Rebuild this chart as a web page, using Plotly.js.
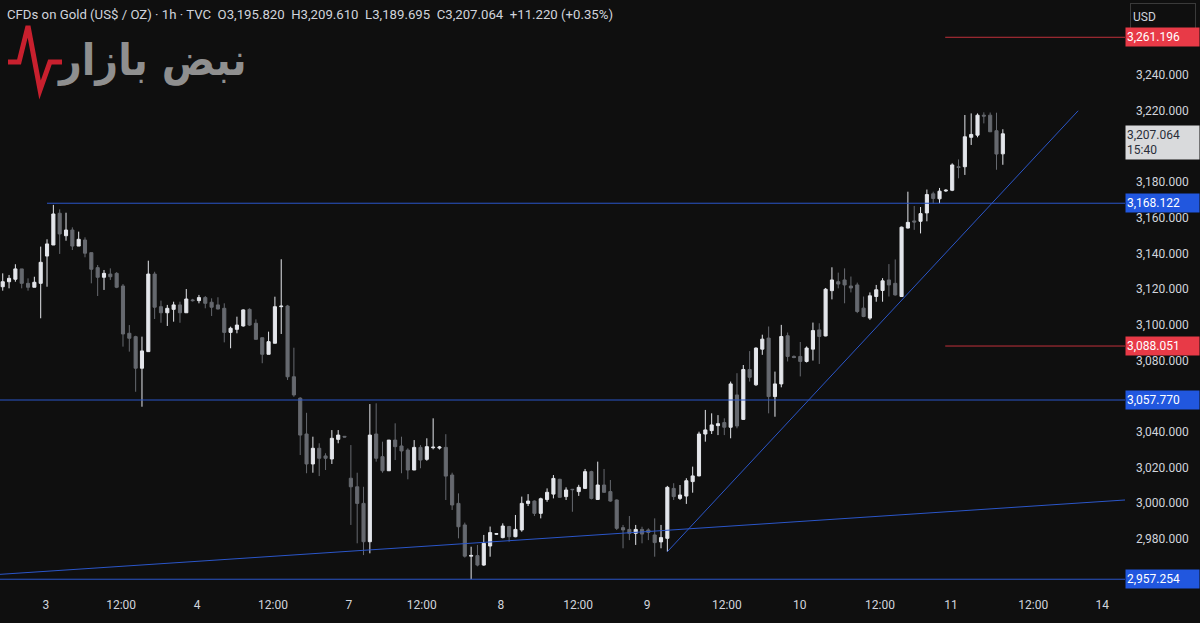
<!DOCTYPE html>
<html><head><meta charset="utf-8">
<script src="https://cdn.plot.ly/plotly-3.0.1.min.js"></script>
<style>html,body{margin:0;padding:0;background:#0f0f0f;}#chart{width:1200px;height:623px;}</style>
</head><body><div id="chart"></div>
<script>
// ---- candle data (1h, CFDs on Gold) ----
const opens = [3121.3,3124.1,3125.5,3131.3,3123.2,3121.0,3123.2,3138.5,3144.7,3162.5,
3149.9,3153.1,3144.1,3147.5,3140.4,3132.0,3126.6,3128.4,3128.8,3121.7,
3095.2,3093.3,3075.6,3084.9,3128.4,3110.1,3106.7,3108.6,3111.1,3106.7,
3113.9,3113.5,3115.2,3112.6,3111.1,3109.2,3095.7,3097.4,3099.3,3108.6,
3100.8,3092.7,3083.4,3089.6,3110.1,3110.5,3070.8,3058.8,3038.7,3021.9,
3030.7,3026.4,3024.7,3035.7,3037.4,3013.9,3009.1,2999.8,2978.3,3038.7,
3026.0,3018.1,3035.3,3032.0,3029.7,3018.5,3031.2,3024.5,3031.0,3030.8,
3031.2,3015.7,2999.8,2987.7,2970.2,2970.5,2965.2,2975.9,2982.5,2980.6,
2986.8,2981.1,2984.9,2999.8,3001.1,2994.2,3002.0,3005.0,3013.3,3003.6,
3007.7,3006.4,3008.2,3017.6,3002.0,3010.1,3006.4,3001.7,2986.2,2985.2,
2983.0,2985.2,2984.9,2982.1,2978.2,2980.2,3008.2,3002.6,3003.9,3012.0,
3015.2,3038.7,3040.6,3043.4,3045.1,3042.5,3060.6,3046.9,3074.9,3066.3,
3086.3,3092.5,3059.7,3066.8,3093.8,3082.2,3082.2,3079.4,3086.3,3097.1,
3093.7,3119.1,3124.1,3125.1,3121.7,3122.3,3109.3,3103.7,3115.8,3119.2,
3125.1,3123.2,3115.8,3154.2,3158.2,3158.0,3162.7,3173.4,3170.6,3175.0,
3175.4,3188.6,3188.6,3205.1,3206.3,3217.5,3217.5,3208.8,3195.82];
const highs = [3128.8,3127.9,3133.9,3131.3,3126.0,3126.9,3143.8,3147.9,3167.2,3164.7,
3162.8,3154.6,3152.2,3149.0,3140.4,3133.5,3130.7,3131.6,3129.5,3122.8,
3099.8,3093.8,3093.3,3135.9,3129.7,3113.5,3111.1,3112.9,3112.9,3120.0,
3114.5,3116.7,3116.1,3114.8,3115.4,3112.0,3098.9,3104.5,3108.6,3109.2,
3103.0,3092.7,3096.1,3115.7,3136.7,3111.1,3087.1,3059.3,3050.6,3037.2,
3033.5,3027.9,3040.9,3040.9,3037.6,3032.5,3017.0,3009.1,3055.5,3055.9,
3034.4,3035.3,3044.7,3037.2,3030.7,3035.3,3032.5,3036.3,3047.5,3032.0,
3038.6,3017.0,3005.4,2989.0,2975.5,2976.5,2982.1,2986.8,2983.2,2988.6,
2987.2,2993.3,3003.6,3005.0,3001.5,3003.0,3008.2,3015.7,3013.6,3008.8,
3007.9,3010.2,3019.1,3018.1,3023.2,3019.1,3012.9,3002.0,2987.7,2992.7,
2987.7,2986.7,2985.8,2991.4,2987.7,3009.6,3011.1,3010.1,3013.9,3020.4,
3040.0,3052.2,3050.3,3049.3,3047.5,3068.1,3072.8,3077.4,3085.2,3087.3,
3094.4,3099.0,3073.7,3099.9,3095.6,3082.8,3090.3,3087.8,3101.2,3100.8,
3120.6,3132.2,3129.2,3131.6,3127.0,3123.6,3115.8,3118.1,3122.3,3126.1,
3134.0,3136.6,3155.0,3174.6,3166.6,3166.0,3175.8,3174.6,3176.7,3176.0,
3190.5,3192.7,3217.6,3218.5,3218.5,3219.1,3219.0,3218.9,3209.61];
const lows = [3119.1,3120.4,3124.1,3120.4,3119.1,3121.0,3103.6,3121.3,3144.7,3139.7,
3147.1,3141.9,3144.1,3137.8,3123.2,3116.1,3119.5,3125.1,3120.5,3087.7,
3084.9,3062.4,3054.0,3084.9,3103.2,3101.1,3099.3,3101.7,3101.1,3106.7,
3113.0,3112.0,3109.2,3104.9,3108.6,3090.1,3086.8,3095.2,3098.9,3099.3,
3091.8,3078.4,3083.4,3089.6,3094.8,3069.0,3059.6,3026.9,3016.7,3017.0,
3015.1,3018.5,3021.9,3033.5,3036.8,2987.7,2977.4,2970.8,2971.8,3023.2,
3017.0,3018.1,3024.1,3016.7,3013.3,3018.5,3019.5,3023.7,3030.1,3030.0,
3001.7,2996.1,2980.2,2969.4,2957.3,2964.5,2964.8,2969.9,2982.1,2980.2,
2978.3,2980.8,2983.9,2998.3,2992.7,2991.4,3000.7,3002.6,3003.0,3001.7,
2995.1,3004.0,3008.0,3002.0,3001.8,3005.8,3000.7,2984.9,2974.6,2979.2,
2976.5,2977.4,2979.2,2969.9,2974.6,2972.7,3001.7,3001.7,2999.5,3005.8,
3015.0,3034.4,3038.7,3038.1,3038.1,3036.3,3041.9,3046.7,3068.1,3065.7,
3083.1,3050.3,3048.4,3064.9,3079.4,3081.2,3071.0,3078.8,3079.9,3078.0,
3093.5,3114.2,3120.4,3112.0,3118.1,3106.5,3104.2,3102.7,3112.9,3112.9,
3115.8,3116.3,3115.6,3154.0,3153.2,3151.2,3158.0,3168.1,3168.1,3174.5,
3174.9,3182.1,3184.0,3200.8,3205.1,3212.9,3208.2,3186.9,3189.695];
const closes = [3124.1,3126.0,3131.3,3123.2,3121.0,3123.8,3135.0,3145.3,3162.1,3150.9,
3153.1,3144.1,3147.9,3140.1,3131.1,3126.6,3128.8,3126.9,3121.0,3094.8,
3092.4,3075.6,3085.3,3128.4,3109.8,3106.7,3109.2,3111.1,3106.7,3114.4,
3113.5,3115.2,3112.0,3109.8,3108.8,3095.7,3098.0,3099.8,3108.3,3099.8,
3091.8,3083.4,3090.5,3110.1,3110.4,3070.8,3060.6,3038.1,3021.9,3030.7,
3025.1,3025.1,3036.3,3038.1,3037.0,3009.1,2999.8,2978.3,3038.1,3025.1,
3018.1,3035.3,3031.6,3029.2,3018.5,3031.2,3024.1,3031.6,3031.3,3031.4,
3015.1,2998.9,2986.7,2970.2,2970.6,2965.2,2977.4,2983.4,2982.8,2987.1,
2981.1,2985.2,2999.8,3001.1,2994.2,3002.4,3006.0,3013.8,3003.2,3007.3,
3007.5,3008.8,3017.6,3002.6,3010.1,3006.0,3001.1,2985.8,2984.9,2983.0,
2985.2,2982.6,2983.5,2977.8,2980.6,3008.8,3003.6,3004.5,3012.5,3015.2,
3038.7,3041.0,3043.8,3044.5,3042.5,3066.8,3043.2,3074.9,3070.5,3086.9,
3091.9,3059.7,3066.8,3093.4,3082.2,3081.6,3079.4,3086.9,3096.7,3093.4,
3119.9,3125.1,3122.8,3122.3,3120.6,3107.4,3104.6,3116.2,3119.6,3124.6,
3122.3,3116.7,3154.7,3157.4,3157.6,3162.3,3173.0,3170.8,3174.9,3175.4,
3189.6,3188.2,3205.4,3206.7,3217.5,3217.0,3208.2,3195.7,3207.064];

// ---- time axis (bar index positions of the labels) ----
const xTickVals = [6.8,18.7,30.7,42.7,54.7,66.2,78.7,90.9,101.8,114.4,125.9,138.6,149.8,162.8,173.7];
const xTickText = ['3','12:00','4','12:00','7','12:00','8','12:00','9','12:00','10','12:00','11','12:00','14'];
const xRange = [-0.43, 177.3];

// ---- price axis (3,200 and 3,260 sit fully under the price labels) ----
const priceTicks = [2960,2980,3000,3020,3040,3060,3080,3100,3120,3140,3160,3180,3220,3240];
const yRange = [2950.1, 3282.1];

// ---- drawings ----
const blueLevels = [3168.122, 3057.770, 2957.254];
const blueLevelStart = [7, xRange[0], xRange[0]];
const redLevels = [3261.196, 3088.051];
const redLevelStart = [148.9, 148.9];
const riseTrendX = [105, 169.9];
const riseTrendY = [2972.7, 3220.0];
const baseTrendX = [xRange[0], xRange[1]];
const baseTrendY = [2960.0, 3001.7];

const lastPrice = 3207.064;
const countdown = '15:40';
const symbolText = 'CFDs on Gold (US$ / OZ) · 1h · TVC';
const changeText = '+11.220 (+0.35%)';

const fmt = v => v.toLocaleString('en-US', {minimumFractionDigits: 3, maximumFractionDigits: 3});
const n = opens.length;
const xIdx = opens.map((_, i) => i);

const UP = '#e4e6eb', DOWN = '#66696f';
const candle = {
  type: 'candlestick', x: xIdx, open: opens, high: highs, low: lows, close: closes,
  increasing: {line: {color: UP, width: 1}, fillcolor: UP},
  decreasing: {line: {color: DOWN, width: 1}, fillcolor: DOWN},
  whiskerwidth: 0, hoverinfo: 'skip', showlegend: false
};

const shapes = [];
blueLevels.forEach((v, i) => shapes.push({type: 'line', xref: 'x', yref: 'y', x0: blueLevelStart[i], x1: xRange[1], y0: v, y1: v, line: {color: '#2b56c9', width: 1}}));
redLevels.forEach((v, i) => shapes.push({type: 'line', xref: 'x', yref: 'y', x0: redLevelStart[i], x1: xRange[1], y0: v, y1: v, line: {color: '#c0313b', width: 1}}));
shapes.push({type: 'line', xref: 'x', yref: 'y', x0: riseTrendX[0], x1: riseTrendX[1], y0: riseTrendY[0], y1: riseTrendY[1], line: {color: '#2b56c9', width: 1}});
shapes.push({type: 'line', xref: 'x', yref: 'y', x0: baseTrendX[0], x1: baseTrendX[1], y0: baseTrendY[0], y1: baseTrendY[1], line: {color: '#2b56c9', width: 1}});

// watermark pulse line (decoration, in paper units of the 1125x592 pane)
const PW = 1125, PH = 592;
const pp = (px, py) => (px / PW).toFixed(4) + ',' + (1 - py / PH).toFixed(4);
const pulsePts = [[8,62],[19,62],[28,26],[40,90],[50,62],[62,62]];
shapes.push({type: 'path', xref: 'paper', yref: 'paper', layer: 'below',
  path: 'M' + pulsePts.map(p => pp(p[0], p[1])).join(' L'), line: {color: '#c8202e', width: 5}});

const annotations = [];
// watermark text
annotations.push({xref: 'paper', yref: 'paper', x: 55 / PW, y: 1 - 60 / PH, xanchor: 'left', yanchor: 'middle',
  text: '<b>نبض بازار</b>', showarrow: false, font: {family: 'DejaVu Sans Condensed, DejaVu Sans', size: 44, color: '#8f8f8f'}});
// header
annotations.push({xref: 'paper', yref: 'paper', x: 0, y: 1, xanchor: 'left', yanchor: 'top', xshift: 5, yshift: -5,
  text: symbolText + '  O' + fmt(opens[n-1]) + '  H' + fmt(highs[n-1]) + '  L' + fmt(lows[n-1]) + '  C' + fmt(closes[n-1]) + '  ' + changeText,
  showarrow: false, font: {family: 'Roboto', size: 13.2, color: '#d1d4dc'}});
// USD box
annotations.push({xref: 'paper', yref: 'paper', x: 1, y: 1, xanchor: 'left', yanchor: 'top', xshift: 5, yshift: -3,
  text: 'USD', showarrow: false, align: 'left', width: 60, height: 21, borderpad: 2,
  bordercolor: '#3a3a3a', borderwidth: 1, bgcolor: '#0f0f0f', font: {family: 'Roboto', size: 12, color: '#d1d4dc'}});
// level labels
const levelLabel = (v, bg) => ({xref: 'paper', yref: 'y', x: 1, y: v, xanchor: 'left', yanchor: 'middle',
  text: fmt(v), showarrow: false, align: 'left', width: 71, height: 16, borderpad: 1, bgcolor: bg,
  font: {family: 'Roboto', size: 12, color: '#ffffff'}});
redLevels.forEach(v => annotations.push(levelLabel(v, '#e83a47')));
blueLevels.forEach(v => annotations.push(levelLabel(v, '#2157df')));
// current price label
annotations.push({xref: 'paper', yref: 'y', x: 1, y: lastPrice, xanchor: 'left', yanchor: 'top', yshift: 9,
  text: fmt(lastPrice) + '<br>' + countdown, showarrow: false, align: 'left', width: 71, height: 31, borderpad: 1,
  bgcolor: '#d9dadc', font: {family: 'Roboto', size: 12, color: '#2a2e39'}});

const layout = {
  width: 1200, height: 623,
  margin: {l: 0, r: 75, t: 0, b: 31},
  paper_bgcolor: '#0f0f0f', plot_bgcolor: '#0f0f0f',
  showlegend: false, hovermode: false, dragmode: false,
  xaxis: {range: xRange, rangeslider: {visible: false}, showgrid: false, zeroline: false, showline: false,
    tickmode: 'array', tickvals: xTickVals, ticktext: xTickText, ticks: '',
    tickfont: {family: 'Roboto', size: 12, color: '#d1d4dc'}, ticklabelstandoff: 4, fixedrange: true},
  yaxis: {range: yRange, side: 'right', showgrid: false, zeroline: false, showline: false,
    tickmode: 'array', tickvals: priceTicks, tickformat: ',.3f', ticks: '',
    tickfont: {family: 'Roboto', size: 12, color: '#d1d4dc'}, ticklabelstandoff: 10, fixedrange: true},
  shapes: shapes, annotations: annotations
};
Plotly.newPlot('chart', [candle], layout, {displayModeBar: false, staticPlot: true});
</script>
</body></html>
